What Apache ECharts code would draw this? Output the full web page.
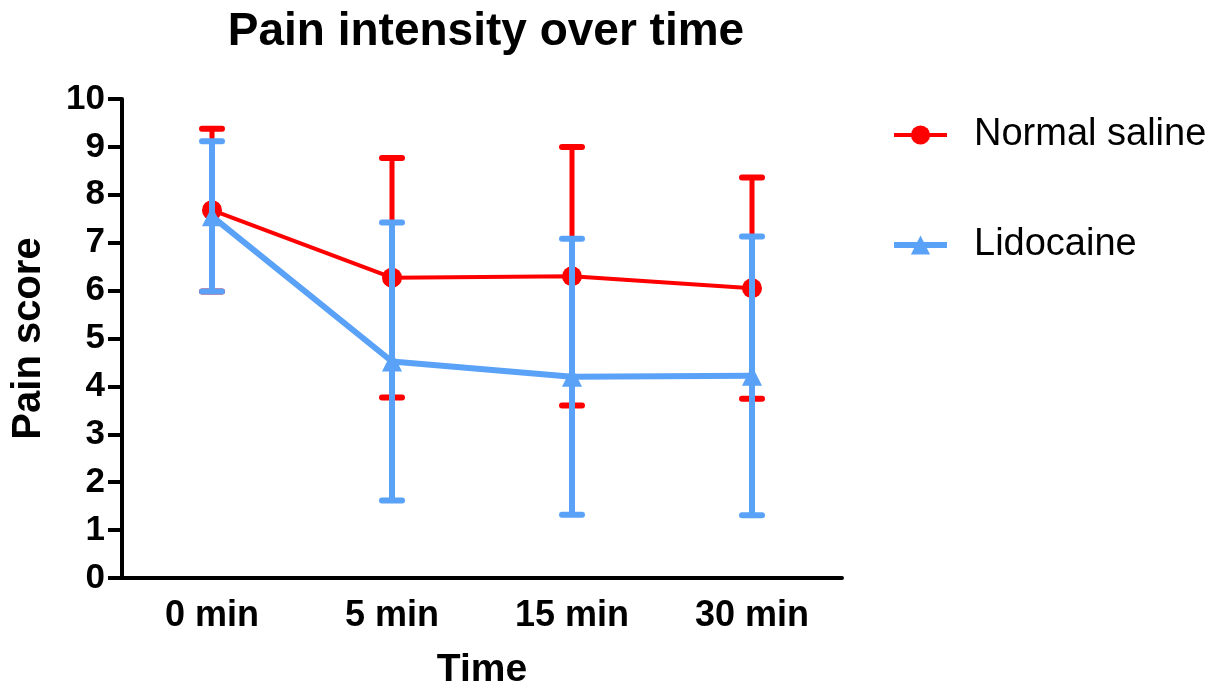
<!DOCTYPE html>
<html>
<head>
<meta charset="utf-8">
<script src="https://cdn.jsdelivr.net/npm/echarts@6/dist/echarts.min.js"></script>
<style>html,body{margin:0;padding:0;background:#fff;}#c{width:1228px;height:689px;}</style>
</head>
<body>
<div id="c"></div>
<script>
var categories = ['0 min', '5 min', '15 min', '30 min'];
var salineMean = [7.68, 6.27, 6.30, 6.05];
var salineSD = [1.70, 2.50, 2.70, 2.31];
var lidoMean = [7.55, 4.52, 4.20, 4.22];
var lidoSD = [1.57, 2.90, 2.88, 2.91];
var yTicks = [0, 1, 2, 3, 4, 5, 6, 7, 8, 9, 10];

var FONT = 'Arial, "Liberation Sans", sans-serif';
var RED = '#ff0000';
var BLUE = '#5aa2f8';

function errData(mean, sd) {
  return mean.map(function (m, i) { return [i, m - sd[i], m + sd[i]]; });
}
function errRender(color, lw) {
  return function (params, api) {
    var x = api.value(0);
    var lo = api.coord([x, api.value(1)]);
    var hi = api.coord([x, api.value(2)]);
    var hw = 10;
    var s = { stroke: color, lineWidth: lw, lineCap: 'butt' };
    var c = { stroke: color, lineWidth: 6, lineCap: 'round' };
    return {
      type: 'group',
      children: [
        { type: 'line', shape: { x1: lo[0], y1: lo[1], x2: hi[0], y2: hi[1] }, style: s },
        { type: 'line', shape: { x1: lo[0] - hw, y1: lo[1], x2: lo[0] + hw, y2: lo[1] }, style: c },
        { type: 'line', shape: { x1: hi[0] - hw, y1: hi[1], x2: hi[0] + hw, y2: hi[1] }, style: c }
      ]
    };
  };
}

var chart = echarts.init(document.getElementById('c'));
chart.setOption({
  animation: false,
  backgroundColor: '#fff',
  title: {
    text: 'Pain intensity over time',
    left: 481, textAlign: 'center', top: 4,
    textStyle: { fontFamily: FONT, fontWeight: 'bold', fontSize: 46, color: '#000' }
  },
  legend: {
    orient: 'vertical',
    left: 886, top: 111,
    itemWidth: 53, itemHeight: 24, itemGap: 72,
    lineStyle: { width: 'inherit' },
    textStyle: { fontFamily: FONT, fontSize: 38, color: '#000', padding: [0, 0, 0, 22] },
    data: ['Normal saline', 'Lidocaine']
  },
  grid: { left: 122, right: 386, top: 99, bottom: 111, containLabel: false, outerBoundsMode: 'none' },
  xAxis: {
    type: 'category',
    data: categories,
    name: 'Time',
    nameLocation: 'middle',
    nameGap: 73,
    nameTextStyle: { fontFamily: FONT, fontWeight: 'bold', fontSize: 39, color: '#000' },
    axisLine: { lineStyle: { color: '#000', width: 4 } },
    axisTick: { alignWithLabel: true, length: 14, lineStyle: { width: 4, color: '#000' } },
    axisLabel: { fontFamily: FONT, fontWeight: 'bold', fontSize: 36, color: '#000', margin: 20 },
    splitLine: { show: false }
  },
  yAxis: {
    type: 'value',
    min: yTicks[0], max: yTicks[yTicks.length - 1], interval: 1,
    name: 'Pain score',
    nameLocation: 'middle',
    nameGap: 73,
    nameRotate: 90,
    nameTextStyle: { fontFamily: FONT, fontWeight: 'bold', fontSize: 40, color: '#000' },
    axisLine: { show: true, lineStyle: { color: '#000', width: 4 } },
    axisTick: { show: true, length: 14, lineStyle: { width: 4, color: '#000' } },
    axisLabel: { fontFamily: FONT, fontWeight: 'bold', fontSize: 35, color: '#000', margin: 17 },
    splitLine: { show: false }
  },
  series: [
    {
      type: 'custom', name: 'Normal saline err', z: 1,
      renderItem: errRender(RED, 5),
      data: errData(salineMean, salineSD),
      encode: { x: 0, y: [1, 2] },
      silent: true
    },
    {
      type: 'line', name: 'Normal saline', z: 2,
      data: salineMean,
      symbol: 'circle', symbolSize: 20,
      lineStyle: { color: RED, width: 4 },
      itemStyle: { color: RED }
    },
    {
      type: 'custom', name: 'Lidocaine err', z: 3,
      renderItem: errRender(BLUE, 6),
      data: errData(lidoMean, lidoSD),
      encode: { x: 0, y: [1, 2] },
      silent: true
    },
    {
      type: 'line', name: 'Lidocaine', z: 4,
      data: lidoMean,
      symbol: 'triangle', symbolSize: 20,
      lineStyle: { color: BLUE, width: 6 },
      itemStyle: { color: BLUE }
    }
  ]
});
</script>
</body>
</html>
